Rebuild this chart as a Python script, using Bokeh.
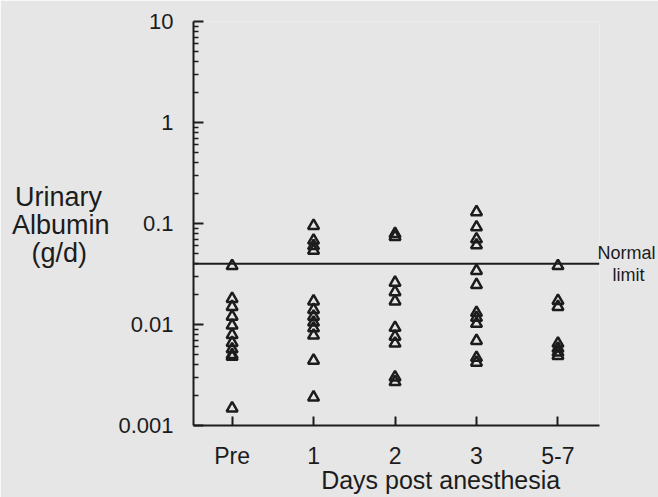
from bokeh.plotting import figure
from bokeh.models import Range1d, FixedTicker, Span, ColumnDataSource, LogAxis, LinearAxis
from bokeh.embed import file_html
from bokeh.resources import INLINE

# ---- data ----
categories = ["Pre", "1", "2", "3", "5-7"]
pre_vals = [0.038, 0.018, 0.015, 0.012, 0.0098, 0.0079, 0.0066, 0.0057, 0.0050, 0.0048, 0.00148]
day1_vals = [0.095, 0.068, 0.060, 0.054, 0.017, 0.014, 0.012, 0.0105, 0.0092, 0.0078, 0.0044, 0.0019]
day2_vals = [0.079, 0.074, 0.026, 0.021, 0.017, 0.0093, 0.0076, 0.0065, 0.0030, 0.0027]
day3_vals = [0.13, 0.092, 0.070, 0.061, 0.034, 0.0247, 0.0131, 0.0117, 0.0102, 0.0069, 0.0047, 0.0042]
day57_vals = [0.038, 0.0172, 0.015, 0.0065, 0.0058, 0.0053, 0.0049]
normal_limit = 0.04
y_ticks = [0.001, 0.01, 0.1, 1, 10]
y_tick_labels = ["0.001", "0.01", "0.1", "1", "10"]
NB = "\u00a0"
y_title_lines = ["Urinary" + NB, "Albumin", "(g/d)" + NB * 3]
x_title = "Days post anesthesia"
limit_text = ["Normal", NB * 3 + "limit"]

groups = [pre_vals, day1_vals, day2_vals, day3_vals, day57_vals]
xs, ys = [], []
for i, vals in enumerate(groups):
    xs += [i] * len(vals)
    ys += vals
src = ColumnDataSource(dict(x=xs, y=ys))

BG = "#e6e6e6"
INK = "#1c1c1c"
FONT = "Liberation Sans"
PIX_PER_DECADE = 101.0

x_start, x_end = -0.474, 4.51
p = figure(width=658, height=497, y_axis_type="log",
           x_range=Range1d(x_start, x_end), y_range=Range1d(0.001, 10),
           output_backend="svg", toolbar_location=None,
           min_border_left=193, min_border_right=58, min_border_top=21, min_border_bottom=72)
p.background_fill_color = BG
p.border_fill_color = BG
p.outline_line_color = None
p.grid.visible = False

p.scatter("x", "y", source=src, marker="triangle", size=11, fill_color=None,
          line_color=INK, line_width=2.5)

p.add_layout(Span(location=normal_limit, dimension="width", line_color=INK, line_width=2))

# axes
minor = [m * 10 ** d for d in range(-3, 1) for m in range(2, 10)]
ya = p.yaxis[0]
ya.ticker = FixedTicker(ticks=y_ticks, minor_ticks=minor)
ya.major_label_overrides = {t: l for t, l in zip(y_ticks, y_tick_labels)}
xa = p.xaxis[0]
xa.ticker = FixedTicker(ticks=list(range(len(categories))), minor_ticks=[])
xa.major_label_overrides = {i: c for i, c in enumerate(categories)}

for ax in (xa, ya):
    ax.axis_line_width = 2
    ax.axis_line_color = INK
    ax.major_tick_line_color = INK
    ax.major_tick_line_width = 2
    ax.major_tick_in = 10
    ax.major_tick_out = 0
    ax.minor_tick_line_color = INK
    ax.minor_tick_line_width = 1.5
    ax.minor_tick_in = 5
    ax.minor_tick_out = 0
    ax.major_label_text_font = FONT
    ax.major_label_text_color = INK
ya.major_label_text_font_size = "22px"
ya.major_label_standoff = 20
xa.major_label_text_font_size = "23px"
xa.major_label_standoff = 17
xa.major_tick_in = 9


def text_axis(cls, ticks, labels, size, standoff):
    return cls(ticker=FixedTicker(ticks=ticks, minor_ticks=[]),
               major_label_overrides={v: t for v, t in zip(ticks, labels)},
               axis_line_color=None, major_tick_line_color=None, minor_tick_line_color=None,
               major_tick_in=0, major_tick_out=0, major_label_standoff=standoff,
               major_label_text_font=FONT, major_label_text_font_size=size,
               major_label_text_color=INK)


# y axis title: three horizontal lines left of the tick labels
title_mid = 0.1 * 10 ** (-1 / PIX_PER_DECADE)
y_title_pos = [title_mid * 10 ** (k * 28 / PIX_PER_DECADE) for k in (1, 0, -1)]
p.add_layout(text_axis(LogAxis, y_title_pos, y_title_lines, "27px", 6), "left")

# x axis title below the tick labels
x_title_pos = [2.56]
p.add_layout(text_axis(LinearAxis, x_title_pos, [x_title], "25px", -6), "below")

# "Normal limit" note right of the limit line
note_pos = [normal_limit * 10 ** (11 / PIX_PER_DECADE), normal_limit * 10 ** (-11.5 / PIX_PER_DECADE)]
p.add_layout(text_axis(LogAxis, note_pos, limit_text, "18px", -2), "right")

open("out.html", "w").write(file_html(p, INLINE))
